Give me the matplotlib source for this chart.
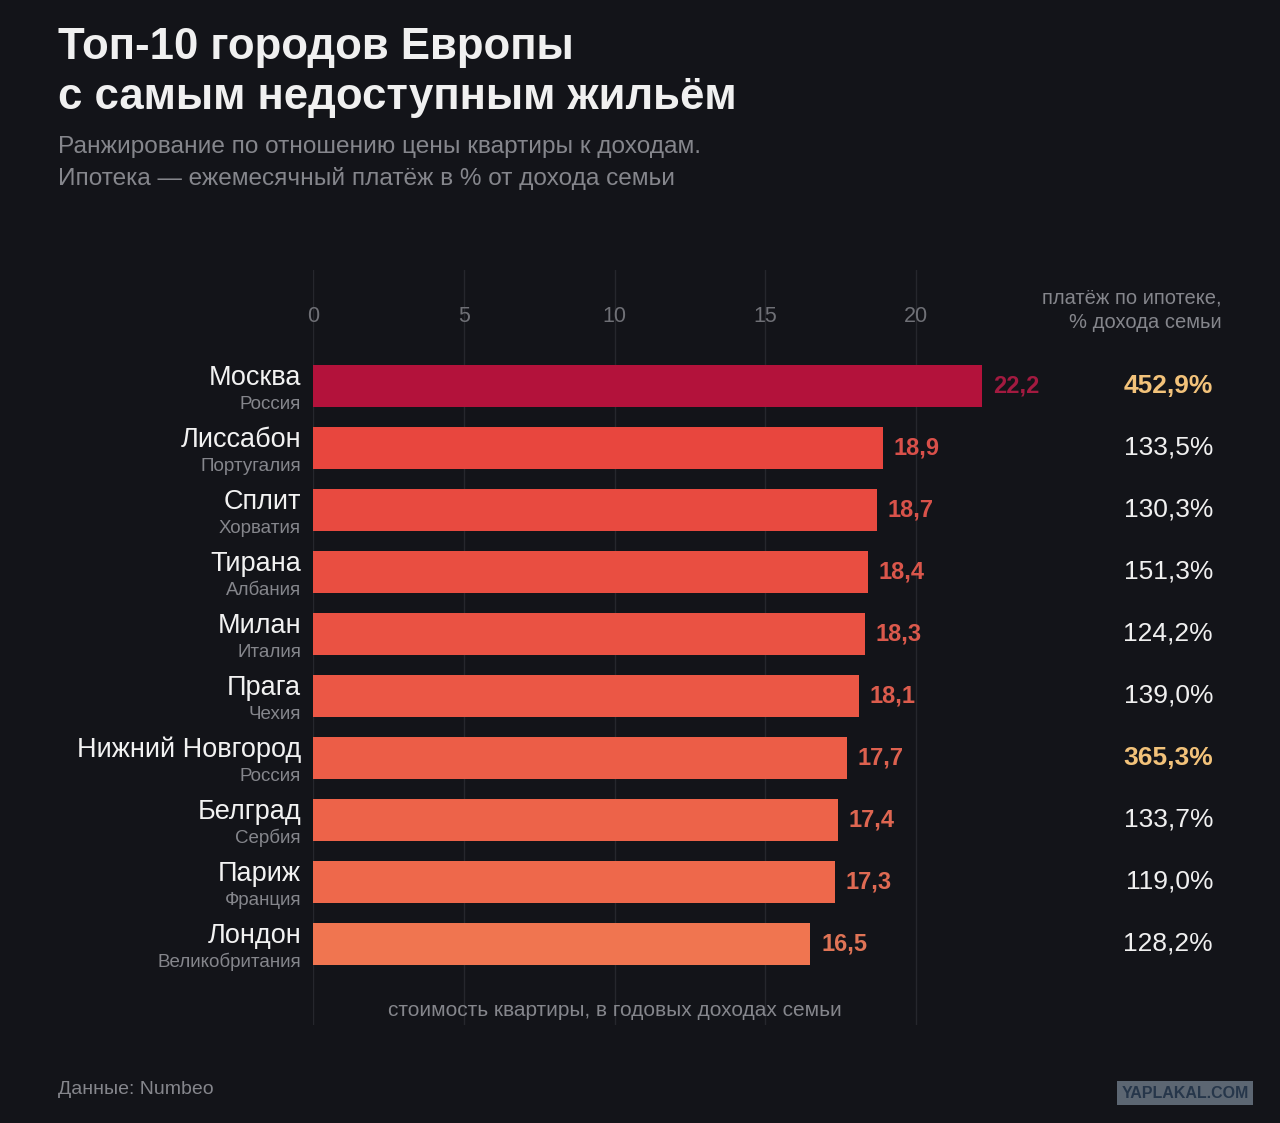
import matplotlib
matplotlib.use('Agg')
import matplotlib.pyplot as plt
import matplotlib.transforms as mtransforms

plt.rcParams['font.family'] = ['Liberation Sans', 'DejaVu Sans']

# data
cities = ['Москва', 'Лиссабон', 'Сплит', 'Тирана', 'Милан', 'Прага',
          'Нижний Новгород', 'Белград', 'Париж', 'Лондон']
countries = ['Россия', 'Португалия', 'Хорватия', 'Албания', 'Италия', 'Чехия',
             'Россия', 'Сербия', 'Франция', 'Великобритания']
ratio = [22.2, 18.9, 18.7, 18.4, 18.3, 18.1, 17.7, 17.4, 17.3, 16.5]
mortgage = [452.9, 133.5, 130.3, 151.3, 124.2, 139.0, 365.3, 133.7, 119.0, 128.2]
highlight = [True, False, False, False, False, False, True, False, False, False]
ticks = [0, 5, 10, 15, 20]

bar_colors = ['#b3123b', '#e8463e', '#e84a40', '#e94e41', '#ea5243',
              '#eb5745', '#ec5d47', '#ed6349', '#ee684b', '#f07550']
label_colors = ['#a31a40', '#d9504a', '#d9524a', '#da564b', '#db594c',
                '#dc5c4d', '#dd614f', '#de6651', '#df6a53', '#e07456']

BG = '#131419'
GRID = '#26272d'
GRAY = '#85868c'

fig = plt.figure(figsize=(12.8, 11.23), dpi=100, facecolor=BG)
W, H = 1280, 1123

# axes: x=0 at px 313, 30.15 px per unit; rows 62 px apart
ax_left, ax_right = 313, 1250
ax_top, ax_bot = 270, 1025
ax = fig.add_axes([ax_left / W, 1 - ax_bot / H, (ax_right - ax_left) / W, (ax_bot - ax_top) / H])
ax.set_facecolor(BG)
ax.set_xlim(0, (ax_right - ax_left) / 30.15)
y0 = 386
ax.set_ylim((ax_bot - y0) / 62, (ax_top - y0) / 62)
for s in ax.spines.values():
    s.set_visible(False)
ax.set_xticks([])
ax.set_yticks([])

for t in ticks:
    ax.axvline(t, color=GRID, lw=1.0, zorder=0)
    ax.text(t, (316 - y0) / 62, str(t), ha='center', va='center',
            fontsize=15.5, color='#6f7076')

ypos = list(range(len(cities)))
ax.barh(ypos, ratio, height=0.69, color=bar_colors, zorder=2)

blend = mtransforms.blended_transform_factory(fig.transFigure, ax.transData)
for i in ypos:
    ax.text(ratio[i] + 0.35, i, f'{ratio[i]:.1f}'.replace('.', ','),
            ha='left', va='center', fontsize=17, fontweight='bold',
            color=label_colors[i])
    fig.text(301 / W, i - 0.02, cities[i], transform=blend, ha='right',
             va='baseline', fontsize=19.5, color='#f2f2f2')
    fig.text(301 / W, i + 0.37, countries[i], transform=blend, ha='right',
             va='baseline', fontsize=13.5, color=GRAY)
    pct = f'{mortgage[i]:.1f}%'.replace('.', ',')
    if highlight[i]:
        fig.text(1213 / W, i, pct, transform=blend, ha='right', va='center',
                 fontsize=19, fontweight='bold', color='#f2c27a')
    else:
        fig.text(1213 / W, i, pct, transform=blend, ha='right', va='center',
                 fontsize=19, color='#f0f0f0')

ax.text(10, (1011 - y0) / 62, 'стоимость квартиры, в годовых доходах семьи',
        ha='center', va='center', fontsize=15, color=GRAY)

fig.text(1222 / W, 1 - 298 / H, 'платёж по ипотеке,', ha='right', va='center',
         fontsize=14.5, color=GRAY)
fig.text(1222 / W, 1 - 323 / H, '% дохода семьи', ha='right', va='center',
         fontsize=14.5, color=GRAY)

# titles
fig.text(58 / W, 1 - 48 / H, 'Топ-10 городов Европы', ha='left', va='center',
         fontsize=31.5, fontweight='bold', color='#f0f0f0')
fig.text(58 / W, 1 - 97 / H, 'с самым недоступным жильём', ha='left', va='center',
         fontsize=31.5, fontweight='bold', color='#f0f0f0')
fig.text(58 / W, 1 - 147 / H, 'Ранжирование по отношению цены квартиры к доходам.',
         ha='left', va='center', fontsize=17.6, color=GRAY)
fig.text(58 / W, 1 - 179 / H, 'Ипотека — ежемесячный платёж в % от дохода семьи',
         ha='left', va='center', fontsize=17.6, color=GRAY)

fig.text(58 / W, 1 - 1089 / H, 'Данные: Numbeo', ha='left', va='center',
         fontsize=14, color=GRAY)

fig.text(1185 / W, 1 - 1093 / H, 'YAPLAKAL.COM', ha='center', va='center',
         fontsize=11.5, fontweight='bold', color='#26364a',
         bbox=dict(boxstyle='square,pad=0.3', fc='#5c6672', ec='none'))

fig.savefig('out.png', dpi=100, facecolor=BG)
